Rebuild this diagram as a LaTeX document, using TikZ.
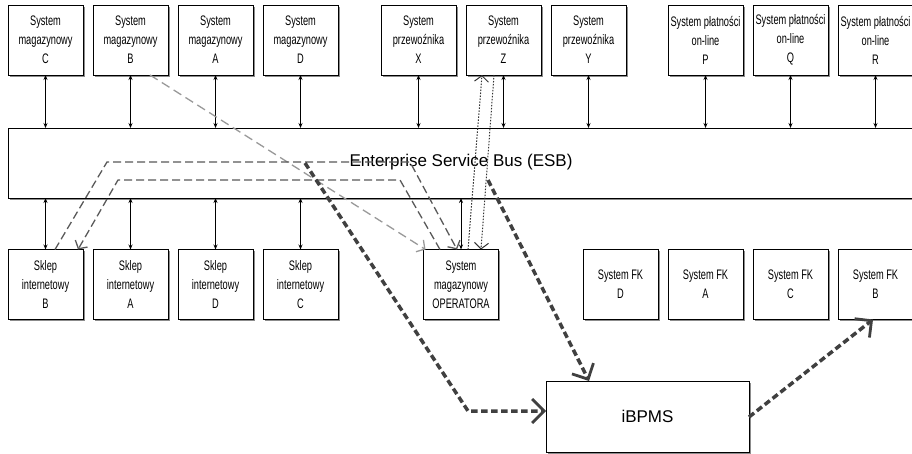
\documentclass[tikz,border=0pt]{standalone}
\usepackage{fontspec}
\setmainfont{Liberation Sans}
\newfontfamily\narrowfont[FakeStretch=0.67]{Liberation Sans}
\usetikzlibrary{positioning, arrows.meta, shadows}
\tikzset{
  sysbox/.style  = {draw, line width=0.8pt, fill=white, outer sep=0pt, inner sep=1pt, minimum width=75pt, minimum height=70pt, align=center, font=\narrowfont\fontsize{13.8}{19}\selectfont, drop shadow={shadow xshift=1.5pt, shadow yshift=-1.5pt, fill=black!45, opacity=1}},
  busbox/.style  = {draw, line width=0.8pt, fill=white, outer sep=0pt, minimum width=912pt, minimum height=70pt, font=\fontsize{17}{20}\selectfont, drop shadow={shadow xshift=1.5pt, shadow yshift=-1.5pt, fill=black!45, opacity=1}},
  bigbox/.style  = {sysbox, minimum width=203pt, minimum height=71pt, font=\fontsize{17}{20}\selectfont},
  link/.style    = {{Stealth[length=5pt, width=4pt]}-{Stealth[length=5pt, width=4pt]}, line width=0.8pt},
  copyflow/.style  = {draw=black!40, line width=1.3pt, dash pattern=on 9pt off 5pt, -{Straight Barb[length=6pt, width=14pt]}},
  orderflow/.style = {draw=black!65, line width=1.3pt, dash pattern=on 8pt off 4pt, -{Straight Barb[length=6pt, width=14pt]}},
  syncflow/.style  = {draw=black!80, line width=1pt, dash pattern=on 1.5pt off 1.5pt, -{Straight Barb[length=6pt, width=14pt]}},
  procflow/.style  = {draw=black!75, line width=3.5pt, dash pattern=on 6.5pt off 3.5pt, -{Straight Barb[length=12pt, width=24pt, line width=2.8pt]}}
}

\begin{document}
\begin{tikzpicture}[x=1pt, y=-1pt, node distance=10pt]
  \useasboundingbox (0,0) rectangle (912,453);

  % top row
  \node[sysbox] (magC) at (45.5,40) {System\\magazynowy\\C};
  \node[sysbox, right=of magC] (magB) {System\\magazynowy\\B};
  \node[sysbox, right=of magB] (magA) {System\\magazynowy\\A};
  \node[sysbox, right=of magA] (magD) {System\\magazynowy\\D};

  \node[sysbox] (przX) at (418.5,40) {System\\przewoźnika\\X};
  \node[sysbox, right=of przX] (przZ) {System\\przewoźnika\\Z};
  \node[sysbox, right=of przZ] (przY) {System\\przewoźnika\\Y};

  \node[sysbox] (platP) at (705.5,40) {System płatności\\on-line\\P};
  \node[sysbox, right=of platP] (platQ) {System płatności\\on-line\\Q};
  \node[sysbox, right=of platQ] (platR) {System płatności\\on-line\\R};

  % bus
  \node[busbox] (esb) at (464,163) {};
  \node[font=\fontsize{17}{20}\selectfont] (esbLabel) at (461,162) {Enterprise Service Bus (ESB)};

  % bottom row
  \node[sysbox] (sklepB) at (45.5,284.5) {Sklep\\internetowy\\B};
  \node[sysbox, right=of sklepB] (sklepA) {Sklep\\internetowy\\A};
  \node[sysbox, right=of sklepA] (sklepD) {Sklep\\internetowy\\D};
  \node[sysbox, right=of sklepD] (sklepC) {Sklep\\internetowy\\C};

  \node[sysbox] (oper) at (461,284.5) {System\\magazynowy\\OPERATORA};

  \node[sysbox] (fkD) at (620.5,284.5) {System FK\\D};
  \node[sysbox, right=of fkD] (fkA) {System FK\\A};
  \node[sysbox, right=of fkA] (fkC) {System FK\\C};
  \node[sysbox, right=of fkC] (fkB) {System FK\\B};

  \node[bigbox] (bpms) at (647.5,416.5) {iBPMS};

  % bus connections
  \foreach \n in {magC, magB, magA, magD, przX, przZ, przY, platP, platQ, platR}
    \draw[link] (\n.south) -- (\n.south |- esb.north);
  \foreach \n in {sklepB, sklepA, sklepD, sklepC, oper}
    \draw[link] (\n.north) -- (\n.north |- esb.south);

  % flows
  \draw[copyflow] ([xshift=-18pt]magB.south east) -- ([xshift=2pt]oper.north west);
  \draw[orderflow] ([xshift=9.5pt]sklepB.north) -- (107,162) -- (410,162) -- ([xshift=-4pt]oper.north);
  \draw[orderflow] ([xshift=-21pt]oper.north) -- (400,180) -- (118,180) -- ([xshift=-5pt]sklepB.north east);
  \draw[syncflow] ([xshift=7pt]oper.north) -- ([xshift=-21.5pt]przZ.south);
  \draw[syncflow] ([xshift=-9.5pt]przZ.south) -- ([xshift=20pt]oper.north);

  \coordinate (esbOutA) at (305,163);
  \coordinate (esbOutB) at (488,180);
  \draw[procflow] (esbOutA) -- (468,411) -- ([yshift=5.5pt]bpms.west);
  \draw[procflow] (esbOutB) -- ([xshift=-58.5pt]bpms.north);
  \draw[procflow] ([yshift=-0.5pt]bpms.east) -- ([xshift=-2.5pt]fkB.south);
\end{tikzpicture}
\end{document}
